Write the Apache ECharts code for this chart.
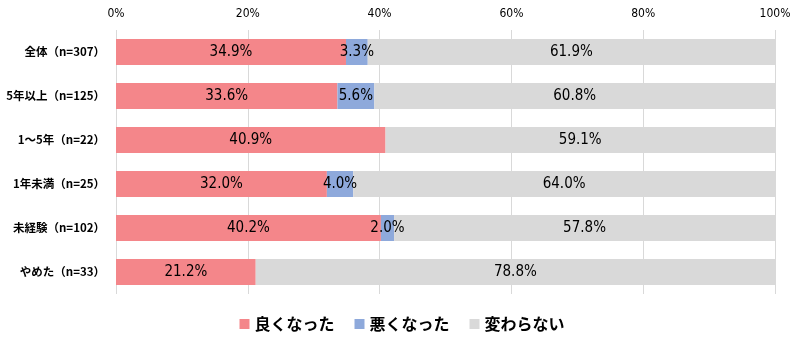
<!DOCTYPE html>
<html>
<head>
<meta charset="utf-8">
<script src="https://cdn.jsdelivr.net/npm/echarts@6/dist/echarts.min.js"></script>
<style>
html,body{margin:0;padding:0;background:#fff;}
#chart{width:804px;height:343px;}
</style>
</head>
<body>
<div id="chart"></div>
<script>
// Groups (top to bottom) and share of answers per group, in percent
const categories = ['全体（n=307）', '5年以上（n=125）', '1～5年（n=22）', '1年未満（n=25）', '未経験（n=102）', 'やめた（n=33）'];
const better = [34.9, 33.6, 40.9, 32.0, 40.2, 21.2];
const worse = [3.3, 5.6, 0, 4.0, 2.0, 0];
const same = [61.9, 60.8, 59.1, 64.0, 57.8, 78.8];
const seriesNames = ['良くなった', '悪くなった', '変わらない'];
const tickValues = [0, 20, 40, 60, 80, 100];

const numFont = '"DejaVu Sans Condensed", "Noto Sans CJK JP", sans-serif';
const jpFont = '"Noto Sans CJK JP", sans-serif';
const colors = ['#F4868A', '#8EA9DB', '#D9D9D9'];

function mkSeries(name, data, color) {
  return {
    name: name,
    type: 'bar',
    stack: 'total',
    barWidth: 26,
    data: data,
    itemStyle: { color: color },
    label: {
      show: true,
      position: 'inside',
      color: '#000',
      fontFamily: numFont,
      fontSize: 15,
      formatter: p => (p.value > 0 ? p.value.toFixed(1) + '%' : '')
    },
    emphasis: { disabled: true }
  };
}

const chart = echarts.init(document.getElementById('chart'), null, { renderer: 'canvas' });
chart.setOption({
  animation: false,
  grid: { left: 116, right: 29, top: 30, height: 264, containLabel: false },
  legend: {
    bottom: 6,
    left: 'center',
    itemWidth: 10,
    itemHeight: 10,
    itemGap: 20,
    icon: 'rect',
    textStyle: { fontFamily: jpFont, fontSize: 16, fontWeight: 'bold', color: '#000' },
    data: seriesNames
  },
  xAxis: {
    type: 'value',
    position: 'top',
    min: 0,
    max: 100,
    interval: 20,
    axisLine: { show: false },
    axisTick: { show: false },
    splitLine: { show: true, lineStyle: { color: '#D9D9D9', width: 1 } },
    axisLabel: {
      margin: 10,
      fontFamily: numFont,
      fontSize: 12,
      color: '#000',
      formatter: v => (tickValues.includes(v) ? v + '%' : '')
    }
  },
  yAxis: {
    type: 'category',
    inverse: true,
    data: categories,
    axisLine: { show: false },
    axisTick: { show: false },
    axisLabel: {
      margin: 11,
      fontFamily: jpFont,
      fontSize: 11.5,
      fontWeight: 'bold',
      color: '#000'
    }
  },
  series: [
    mkSeries(seriesNames[0], better, colors[0]),
    mkSeries(seriesNames[1], worse, colors[1]),
    mkSeries(seriesNames[2], same, colors[2])
  ]
});
</script>
</body>
</html>
